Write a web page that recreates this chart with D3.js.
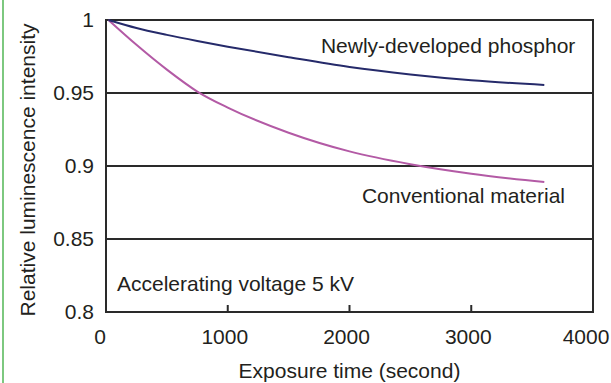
<!DOCTYPE html>
<html>
<head>
<meta charset="utf-8">
<script src="https://cdn.jsdelivr.net/npm/d3@7"></script>
<style>
  body { margin: 0; background: #fff; overflow: hidden; }
  svg { display: block; }
  text { font-family: "Liberation Sans", Arial, sans-serif; fill: #231f20; }
</style>
</head>
<body>
<div class="chart"></div>
<script>
// exposure time (s) and relative luminescence
const times = [20, 250, 500, 750, 1000, 1500, 2000, 2500, 3000, 3600];
const newPhosphor = [1.0, 0.9945, 0.9898, 0.9856, 0.9817, 0.9745, 0.9678, 0.9627, 0.9587, 0.9555];
const conventional = [1.0, 0.983, 0.966, 0.951, 0.940, 0.9228, 0.910, 0.9012, 0.8947, 0.889];
const xTicks = [0, 1000, 2000, 3000, 4000];
const yTicks = [0.8, 0.85, 0.9, 0.95, 1];

const width = 611, height = 383;
const margin = {top: 20, right: 18, bottom: 71, left: 106};
const innerWidth = width - margin.left - margin.right;
const innerHeight = height - margin.top - margin.bottom;

const svg = d3.select(".chart").append("svg")
  .attr("width", width)
  .attr("height", height);

// green bar on the left edge
svg.append("line")
  .attr("x1", 3).attr("x2", 3)
  .attr("y1", 0).attr("y2", height)
  .attr("stroke", "#7dc87f")
  .attr("stroke-width", 2);

const g = svg.append("g")
  .attr("transform", "translate(" + margin.left + "," + margin.top + ")");

const x = d3.scaleLinear().domain([0, 4000]).range([0, innerWidth]);
const y = d3.scaleLinear().domain([0.8, 1]).range([innerHeight, 0]);

// horizontal grid lines
g.selectAll(".grid")
  .data(yTicks.slice(1, -1))
  .enter().append("line")
  .attr("x1", 0).attr("x2", innerWidth)
  .attr("y1", d => y(d)).attr("y2", d => y(d))
  .attr("stroke", "#2a2a2a")
  .attr("stroke-width", 2);

// frame
g.append("rect")
  .attr("width", innerWidth)
  .attr("height", innerHeight)
  .attr("fill", "none")
  .attr("stroke", "#2a2a2a")
  .attr("stroke-width", 2);

// small ticks on the bottom edge, pointing up
g.selectAll(".xtick")
  .data(xTicks.slice(1, -1))
  .enter().append("line")
  .attr("x1", d => x(d)).attr("x2", d => x(d))
  .attr("y1", innerHeight).attr("y2", innerHeight - 7)
  .attr("stroke", "#2a2a2a")
  .attr("stroke-width", 2);

// tick labels
g.selectAll(".xlab")
  .data(xTicks)
  .enter().append("text")
  .attr("x", d => x(d))
  .attr("dx", (d, i) => i === 0 ? -6 : (i === xTicks.length - 1 ? -7 : -3))
  .attr("y", innerHeight + 32)
  .attr("text-anchor", "middle")
  .style("font-size", "21px")
  .text(d => d);

g.selectAll(".ylab")
  .data(yTicks)
  .enter().append("text")
  .attr("x", -12)
  .attr("y", d => y(d))
  .attr("dy", "0.35em")
  .attr("text-anchor", "end")
  .style("font-size", "21px")
  .text(d => d);

// curves
const line = d3.line()
  .x((d, i) => x(times[i]))
  .y(d => y(d))
  .curve(d3.curveMonotoneX);

g.append("path")
  .datum(conventional)
  .attr("fill", "none")
  .attr("stroke", "#b35aa5")
  .attr("stroke-width", 2)
  .attr("d", line);

g.append("path")
  .datum(newPhosphor)
  .attr("fill", "none")
  .attr("stroke", "#252a6a")
  .attr("stroke-width", 2)
  .attr("d", line);

// annotations
g.append("text")
  .attr("x", x(1765)).attr("y", 33)
  .style("font-size", "21px")
  .text("Newly-developed phosphor");

g.append("text")
  .attr("x", x(3770)).attr("y", 183)
  .attr("text-anchor", "end")
  .style("font-size", "21px")
  .text("Conventional material");

g.append("text")
  .attr("x", 11).attr("y", 271)
  .style("font-size", "21px")
  .text("Accelerating voltage 5 kV");

// axis titles
svg.append("text")
  .attr("x", margin.left + innerWidth / 2)
  .attr("y", 378)
  .attr("text-anchor", "middle")
  .style("font-size", "21px")
  .text("Exposure time (second)");

svg.append("text")
  .attr("transform", "translate(35," + (margin.top + innerHeight / 2 + 4) + ") rotate(-90)")
  .attr("text-anchor", "middle")
  .style("font-size", "21px")
  .text("Relative luminescence intensity");
</script>
</body>
</html>
